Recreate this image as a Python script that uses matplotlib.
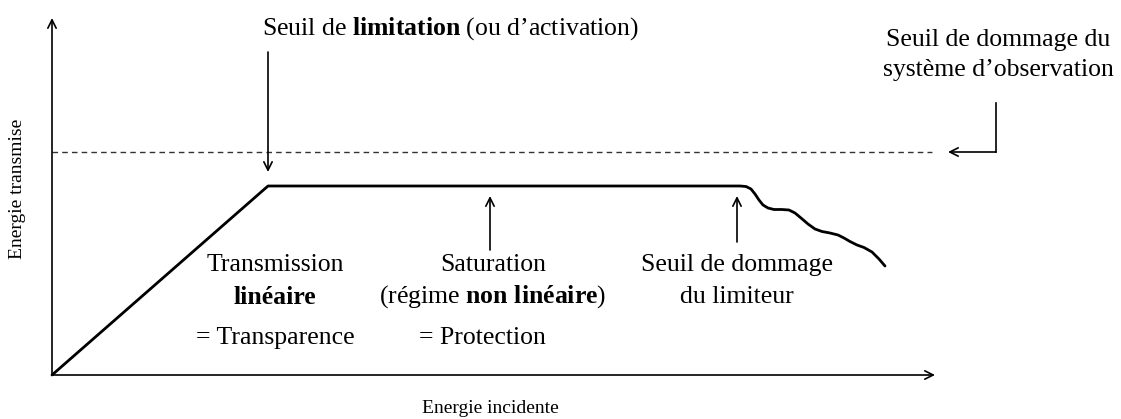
import matplotlib.pyplot as plt
import numpy as np

# Schéma limiteur optique (unités arbitraires, origine = coin des axes)
x_max, y_max = 883, 357

# Réponse du limiteur : linéaire -> plateau -> dommage
curve_x = [0, 216, 688, 694, 699, 703, 707, 711, 716, 722, 730, 737, 743, 749,
           756, 763, 770, 778, 786, 792, 798, 805, 812, 820, 827, 833]
curve_y = [0, 189, 189, 188.5, 186, 181, 175, 170, 167, 165.5, 165.5, 165, 162, 157,
           151, 146, 143.5, 142, 140, 137, 133.5, 130, 127.5, 123, 116, 109]

# Seuil de dommage du système d'observation (pointillés)
seuil_obs = 223
seuil_obs_x = [0, 880]
renvoi_x = [944, 944, 896]
renvoi_y = [272, 223, 223]

# Flèches d'annotation : (x, y_départ, y_arrivée)
fleche_limitation = (216, 323, 203)
fleche_saturation = (438, 125, 179)
fleche_dommage = (685, 133, 179)

plt.rcParams['font.family'] = ['Liberation Serif', 'DejaVu Serif']
plt.rcParams['mathtext.fontset'] = 'custom'
plt.rcParams['mathtext.rm'] = 'Liberation Serif'
plt.rcParams['mathtext.bf'] = 'Liberation Serif:bold'

fig = plt.figure(figsize=(11.21, 4.19), dpi=100)
ax = fig.add_axes([52 / 1121, 44 / 419, x_max / 1121, y_max / 419])
ax.set_xlim(0, x_max)
ax.set_ylim(0, y_max)
ax.axis('off')

fs = 18.5
arrow = dict(arrowstyle='->', lw=1.2, color='black', shrinkA=0, shrinkB=0, mutation_scale=15)

# axes avec flèches
ax.annotate('', xy=(x_max, 0), xytext=(0, 0), annotation_clip=False, arrowprops=arrow)
ax.annotate('', xy=(0, y_max), xytext=(0, 0), annotation_clip=False, arrowprops=arrow)

ax.plot(curve_x, curve_y, color='black', lw=2, solid_joinstyle='round', solid_capstyle='round', clip_on=False)
ax.plot(seuil_obs_x, [seuil_obs, seuil_obs], color='#333333', lw=1, linestyle=(0, (4, 3)), clip_on=False)

ax.plot(renvoi_x[:2], renvoi_y[:2], color='black', lw=1.2, clip_on=False)
ax.annotate('', xy=(renvoi_x[2], renvoi_y[2]), xytext=(renvoi_x[1], renvoi_y[1]),
            annotation_clip=False, arrowprops=arrow)

for fx, y0, y1 in [fleche_limitation, fleche_saturation, fleche_dommage]:
    ax.annotate('', xy=(fx, y1), xytext=(fx, y0), annotation_clip=False, arrowprops=arrow)

# textes
ax.text(398, 346, r'Seuil de $\mathbf{limitation}$ (ou d’activation)', ha='center', va='center', fontsize=fs)
ax.text(946, 320, 'Seuil de dommage du\nsystème d’observation', ha='center', va='center',
        fontsize=fs, linespacing=1.45, clip_on=False)

ax.text(223, 110, 'Transmission', ha='center', va='center', fontsize=fs)
ax.text(223, 78, 'linéaire', ha='center', va='center', fontsize=fs, fontweight='bold')
ax.text(223, 37, '= Transparence', ha='center', va='center', fontsize=fs)

ax.text(441, 110, 'Saturation', ha='center', va='center', fontsize=fs)
ax.text(441, 78, r'(régime $\mathbf{non\;linéaire}$)', ha='center', va='center', fontsize=fs)
ax.text(430, 37, '= Protection', ha='center', va='center', fontsize=fs)

ax.text(685, 110, 'Seuil de dommage', ha='center', va='center', fontsize=fs)
ax.text(685, 78, 'du limiteur', ha='center', va='center', fontsize=fs)

ax.text(438, -33, 'Energie incidente', ha='center', va='center', fontsize=14)
ax.text(-34, 186, 'Energie transmise', ha='center', va='center', fontsize=14, rotation=90)

plt.savefig('out.png', dpi=100)
